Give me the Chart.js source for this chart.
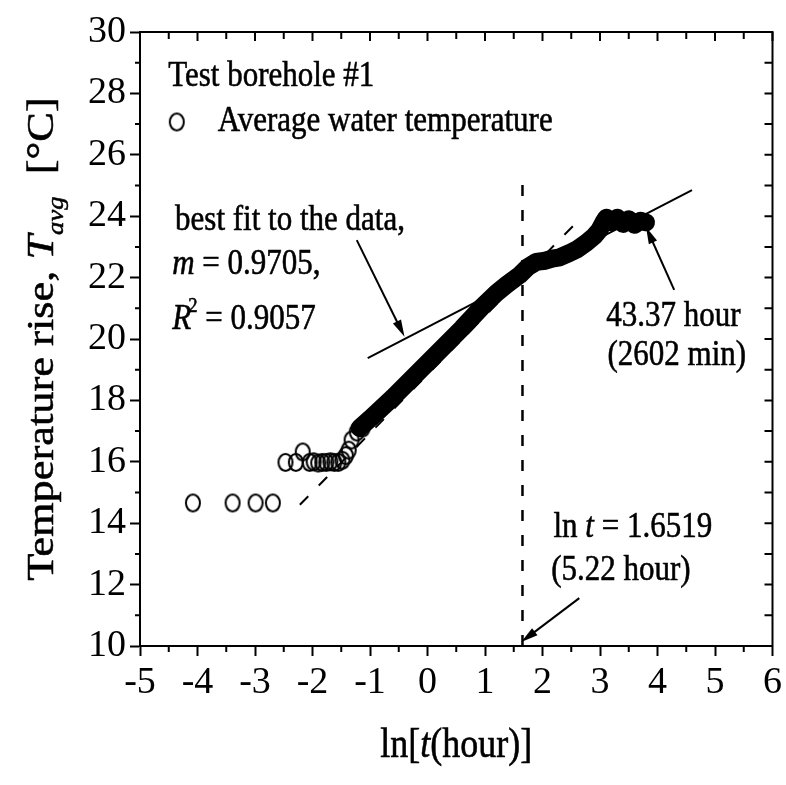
<!DOCTYPE html>
<html>
<head>
<meta charset="utf-8">
<script src="https://cdn.jsdelivr.net/npm/chart.js@4.4.1/dist/chart.umd.min.js"></script>
<style>
  html, body { margin: 0; padding: 0; background: #fff; }
  #wrap { width: 786px; height: 785px; }
</style>
</head>
<body>
<div id="wrap"><canvas id="chart"></canvas></div>
<script>
// ----- values -----
// sparse early readings (open circles)
const earlyLnT = [-4.08, -3.39, -2.99, -2.69, -2.47, -2.29, -2.17, -2.05, -1.98, -1.90, -1.83,
  -1.76, -1.69, -1.62, -1.55, -1.48, -1.42, -1.37, -1.32, -1.23, -1.13];
const earlyTemp = [14.66, 14.66, 14.66, 14.66, 15.98, 15.98, 16.32, 15.98, 16.0, 15.96, 15.98,
  15.98, 16.0, 15.98, 15.98, 16.05, 16.2, 16.38, 16.71, 16.97, 17.1];

// dense readings that merge into a solid band
const bandLnT = [-1.18, -1.0, -0.6, -0.2, 0.2, 0.6, 0.95, 1.2, 1.37, 1.6, 1.75, 1.89, 2.05, 2.17,
  2.3, 2.47, 2.6, 2.76, 2.9, 2.99, 3.06, 3.11, 3.2, 3.3, 3.4, 3.5, 3.6, 3.7, 3.8];
const bandTemp = [17.1, 17.4, 18.1, 18.85, 19.6, 20.35, 21.05, 21.5, 21.76, 22.08, 22.35, 22.51,
  22.55, 22.62, 22.66, 22.8, 22.92, 23.13, 23.35, 23.55, 23.8, 23.95, 23.8, 23.95, 23.75, 23.9,
  23.72, 23.85, 23.8];

// best fit line (m = 0.9705) and the early dashed fit
const fitLnT = [-1.04, 4.6];
const fitTemp = [19.38, 24.85];
const earlyFitLnT = [-2.22, 2.62];
const earlyFitTemp = [14.6, 23.85];

// ln t = 1.6519 marker
const markLnT = [1.6519, 1.6519];
const markTemp = [10, 25.1];

// axis ticks
const xTickValues = [-5, -4, -3, -2, -1, 0, 1, 2, 3, 4, 5, 6];
const yTickValues = [10, 12, 14, 16, 18, 20, 22, 24, 26, 28, 30];

const pts = (xs, ys) => xs.map((v, i) => ({ x: v, y: ys[i] }));
const FONT = '"Liberation Serif", "Times New Roman", serif';

// slightly tall open circle, like the scanned markers
function ringImage() {
  const c = document.createElement("canvas");
  c.width = 18; c.height = 21;
  const g = c.getContext("2d");
  g.lineWidth = 2;
  g.strokeStyle = "#000";
  g.beginPath();
  g.ellipse(9, 10.5, 7, 8.5, 0, 0, Math.PI * 2);
  g.stroke();
  return c;
}
const ring = ringImage();

// draw text made of plain / italic / sub / sup parts
function richText(ctx, x, y, parts, size, opts = {}) {
  ctx.save();
  ctx.translate(x, y);
  if (opts.rotate) ctx.rotate(opts.rotate);
  ctx.scale(opts.sx || 1, opts.sy || 1);
  ctx.fillStyle = "#000";
  ctx.strokeStyle = "#000";
  ctx.lineWidth = 0.5;
  ctx.textBaseline = "alphabetic";
  const fontOf = p => (p.i ? "italic " : "") + ((p.sub || p.sup) ? size * 0.6 : size) + "px " + FONT;
  let total = 0;
  parts.forEach(p => { ctx.font = fontOf(p); total += ctx.measureText(p.t).width + (p.dx || 0); });
  let cx = opts.center ? -total / 2 : 0;
  parts.forEach(p => {
    ctx.font = fontOf(p);
    cx += p.dx || 0;
    const dy = p.sub ? size * 0.28 : p.sup ? -size * 0.45 : 0;
    ctx.fillText(p.t, cx, dy);
    ctx.strokeText(p.t, cx, dy);
    cx += ctx.measureText(p.t).width;
  });
  ctx.restore();
}

function arrow(ctx, x1, y1, x2, y2) {
  const ang = Math.atan2(y2 - y1, x2 - x1);
  const len = 17, half = 4.5;
  ctx.beginPath();
  ctx.moveTo(x1, y1);
  ctx.lineTo(x2 - Math.cos(ang) * len * 0.6, y2 - Math.sin(ang) * len * 0.6);
  ctx.stroke();
  ctx.beginPath();
  ctx.moveTo(x2, y2);
  ctx.lineTo(x2 - Math.cos(ang) * len - Math.sin(ang) * half, y2 - Math.sin(ang) * len + Math.cos(ang) * half);
  ctx.lineTo(x2 - Math.cos(ang) * len + Math.sin(ang) * half, y2 - Math.sin(ang) * len - Math.cos(ang) * half);
  ctx.closePath();
  ctx.fill();
}

// ----- annotations (in data units) -----
const notes = [
  { at: [-4.51, 28.24], parts: [{ t: "Test borehole #1" }] },
  { at: [-3.65, 26.78], parts: [{ t: "Average water temperature" }] },
  { at: [-4.39, 23.55], parts: [{ t: "best fit to the data," }] },
  { at: [-4.44, 22.12], parts: [{ t: "m", i: true }, { t: " = 0.9705," }] },
  { at: [-4.44, 20.33], parts: [{ t: "R", i: true }, { t: "2", sup: true, dx: -3 }, { t: " = 0.9057" }] },
  { at: [3.11, 20.42], parts: [{ t: "43.37 hour" }] },
  { at: [3.13, 19.15], parts: [{ t: "(2602 min)" }] },
  { at: [2.19, 13.55], parts: [{ t: "ln " }, { t: "t", i: true }, { t: " = 1.6519" }] },
  { at: [2.15, 12.15], parts: [{ t: "(5.22 hour)" }] }
];
const arrows = [
  [-1.23, 23.22, -0.40, 20.07],
  [4.29, 21.6, 3.80, 23.65],
  [2.64, 11.56, 1.63, 10.13]
];

const decor = {
  id: "decor",
  afterDraw(chart) {
    const { ctx, chartArea: a, scales: { x, y } } = chart;
    ctx.save();
    ctx.strokeStyle = "#000";
    ctx.fillStyle = "#000";
    ctx.lineWidth = 2;
    ctx.strokeRect(a.left, a.top, a.right - a.left, a.bottom - a.top);

    ctx.beginPath();
    // bottom minor ticks (outward), top ticks (inward) every 0.5
    for (let v = -5; v <= 6.001; v += 0.5) {
      const px = x.getPixelForValue(v);
      if (v % 1 !== 0) { ctx.moveTo(px, a.bottom); ctx.lineTo(px, a.bottom + 6); }
      ctx.moveTo(px, a.top); ctx.lineTo(px, a.top + (v % 1 === 0 ? 9 : 7));
    }
    // left minor ticks (outward), right ticks (inward) every 1
    for (let v = 10; v <= 30; v += 1) {
      const py = y.getPixelForValue(v);
      if (v % 2 !== 0) { ctx.moveTo(a.left, py); ctx.lineTo(a.left - 5, py); }
      ctx.moveTo(a.right, py); ctx.lineTo(a.right - 8, py);
    }
    ctx.stroke();

    ctx.lineWidth = 2;
    arrows.forEach(r => arrow(ctx, x.getPixelForValue(r[0]), y.getPixelForValue(r[1]),
      x.getPixelForValue(r[2]), y.getPixelForValue(r[3])));

    // legend marker
    ctx.drawImage(ring, x.getPixelForValue(-4.36) - ring.width / 2, y.getPixelForValue(27.07) - ring.height / 2);

    notes.forEach(n => richText(ctx, x.getPixelForValue(n.at[0]), y.getPixelForValue(n.at[1]), n.parts, 31, { sy: 1.18 }));

    // axis titles
    richText(ctx, 53, (a.top + a.bottom) / 2,
      [{ t: "Temperature rise, " }, { t: "T", i: true }, { t: "avg", i: true, sub: true }, { t: "  [°C]" }],
      37, { rotate: -Math.PI / 2, sx: 1.2, center: true });
    richText(ctx, (a.left + a.right) / 2, 757,
      [{ t: "ln[" }, { t: "t", i: true }, { t: "(hour)]" }], 36, { sy: 1.2, center: true });
    ctx.restore();
  }
};

new Chart(document.getElementById("chart"), {
  type: "scatter",
  data: {
    datasets: [
      {
        label: "Average water temperature",
        data: pts(earlyLnT, earlyTemp),
        pointStyle: ring, pointRadius: 8, showLine: false
      },
      {
        label: "Average water temperature (dense)",
        data: pts(bandLnT, bandTemp),
        showLine: true, borderColor: "#000", borderWidth: 18, pointRadius: 0,
        borderJoinStyle: "round", borderCapStyle: "round"
      },
      {
        label: "best fit",
        data: pts(fitLnT, fitTemp),
        showLine: true, borderColor: "#000", borderWidth: 2, pointRadius: 0
      },
      {
        label: "early fit",
        data: pts(earlyFitLnT, earlyFitTemp),
        showLine: true, borderColor: "#000", borderWidth: 2, borderDash: [12, 15], pointRadius: 0
      },
      {
        label: "ln t = 1.6519",
        data: pts(markLnT, markTemp),
        showLine: true, borderColor: "#000", borderWidth: 2.5, borderDash: [11, 14], pointRadius: 0
      }
    ]
  },
  options: {
    responsive: true,
    maintainAspectRatio: false,
    animation: false,
    layout: { padding: { top: 32, right: 13, left: 0, bottom: 0 } },
    plugins: { legend: { display: false }, tooltip: { enabled: false } },
    scales: {
      x: {
        type: "linear", min: -5, max: 6,
        afterBuildTicks: s => { s.ticks = xTickValues.map(v => ({ value: v })); },
        afterFit: s => { s.height = 139; },
        grid: { drawOnChartArea: false, drawTicks: true, tickLength: 10, tickWidth: 2, tickColor: "#000" },
        border: { display: true, color: "#000", width: 2 },
        ticks: { color: "#000", padding: 4, maxRotation: 0, font: { family: FONT, size: 38 } }
      },
      y: {
        type: "linear", min: 10, max: 30,
        afterBuildTicks: s => { s.ticks = yTickValues.map(v => ({ value: v })); },
        afterFit: s => { s.width = 140; },
        grid: { drawOnChartArea: false, drawTicks: true, tickLength: 10, tickWidth: 2, tickColor: "#000" },
        border: { display: true, color: "#000", width: 2 },
        ticks: { color: "#000", padding: 4, font: { family: FONT, size: 38 } }
      }
    }
  },
  plugins: [decor]
});
</script>
</body>
</html>
